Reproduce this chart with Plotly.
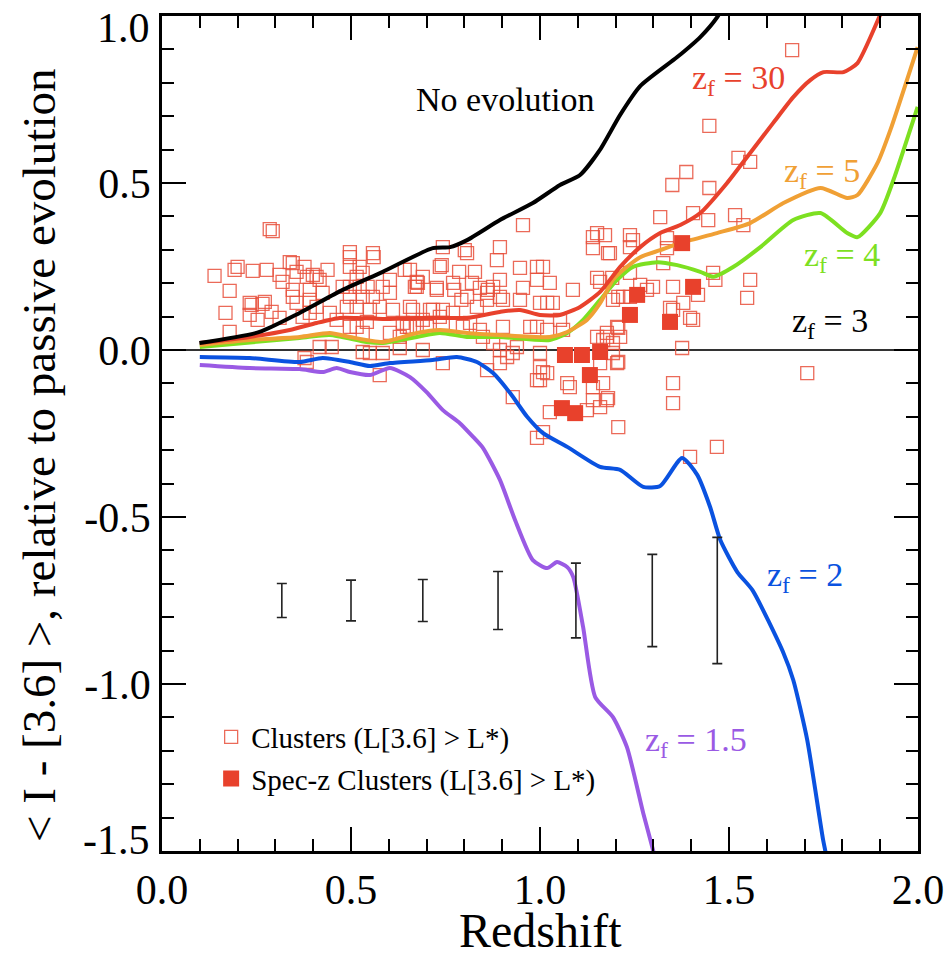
import plotly.graph_objects as go

# ---------------- data ----------------
# open squares: photometric clusters (redshift, colour offset)
clusters_z = [
    0.139, 0.192, 0.200, 0.240, 0.277, 0.179, 0.168, 0.232, 0.237, 0.272, 0.290, 0.179, 0.293, 0.285,
    0.311, 0.338, 0.346, 0.356, 0.319, 0.346, 0.346, 0.356, 0.377, 0.383, 0.409, 0.417, 0.438, 0.391,
    0.391, 0.425, 0.409, 0.391, 0.497, 0.497, 0.558, 0.560, 0.497, 0.523, 0.515, 0.531, 0.478, 0.497,
    0.523, 0.544, 0.497, 0.531, 0.558, 0.489, 0.515, 0.550, 0.576, 0.444, 0.462, 0.497, 0.515, 0.542,
    0.584, 0.603, 0.603, 0.611, 0.656, 0.674, 0.674, 0.690, 0.727, 0.740, 0.743, 0.717, 0.656, 0.648,
    0.674, 0.603, 0.629, 0.531, 0.417, 0.449, 0.383, 0.531, 0.550, 0.584, 0.629, 0.690, 0.576, 0.253,
    0.642, 0.669, 0.677, 0.735, 0.786, 0.807, 0.801, 0.828, 0.727, 0.770, 0.773, 0.820, 0.841, 0.862,
    0.876, 0.894, 0.792, 0.807, 0.709, 0.743, 0.770, 0.833, 0.860, 0.860, 0.894, 0.886, 0.894, 0.902,
    0.955, 0.947, 0.992, 1.008, 0.992, 1.026, 0.955, 1.034, 0.947, 1.000, 1.019, 1.087, 0.637, 0.656,
    0.664, 0.690, 0.701, 0.735, 0.743, 0.796, 0.815, 0.841, 0.902, 0.974, 0.992, 1.019, 1.053, 1.061,
    0.743, 0.849, 0.876, 0.894, 0.939, 0.913, 0.928, 0.894, 1.000, 1.000, 0.860, 0.928, 1.008, 1.019,
    0.992, 1.000, 1.072, 1.079, 1.026, 0.992, 1.008, 1.140, 1.151, 1.140, 1.185, 1.238, 1.246, 1.151,
    1.159, 1.193, 1.220, 1.177, 1.177, 1.167, 1.151, 1.204, 1.193, 1.193, 1.212, 1.159, 1.204, 1.140,
    1.167, 1.140, 1.159, 1.177, 1.124, 1.207, 1.238, 1.318, 1.405, 1.336, 1.336, 1.238, 1.299, 1.265,
    1.283, 1.326, 1.352, 1.379, 1.352, 1.397, 1.405, 1.376, 1.352, 1.352, 1.667, 1.448, 1.387, 1.350,
    1.448, 1.525, 1.556, 1.445, 1.516, 1.538, 1.172, 1.180, 1.238, 1.191, 1.458, 1.464, 1.556, 1.548,
    1.207, 1.418, 1.344, 1.207, 1.180, 1.707, 1.468, 1.397, 1.207,
    0.232, 0.266, 0.311, 0.372, 0.377, 0.399,
]
clusters_c = [
    0.222, 0.240, 0.249, 0.237, 0.240, 0.177, 0.111, 0.141, 0.135, 0.144, 0.114, 0.054, 0.356, 0.362,
    0.225, 0.263, 0.260, 0.234, 0.204, 0.180, 0.159, 0.141, 0.249, 0.219, 0.219, 0.210, 0.240, 0.180,
    0.150, 0.171, 0.129, 0.111, 0.293, 0.278, 0.290, 0.278, 0.249, 0.249, 0.219, 0.231, 0.189, 0.189,
    0.189, 0.189, 0.159, 0.159, 0.159, 0.129, 0.129, 0.120, 0.129, 0.111, 0.090, 0.069, 0.069, 0.084,
    0.189, 0.171, 0.210, 0.120, 0.240, 0.204, 0.189, 0.219, 0.186, 0.254, 0.308, 0.120, 0.129, 0.069,
    0.069, 0.051, 0.039, 0.051, 0.009, 0.009, -0.036, -0.006, -0.009, -0.009, 0.006, 0.000, -0.075, 0.090,
    0.240, 0.189, 0.201, 0.249, 0.234, 0.290, 0.299, 0.234, 0.180, 0.201, 0.180, 0.201, 0.186, 0.180,
    0.189, 0.159, 0.150, 0.159, 0.120, 0.120, 0.111, 0.129, 0.150, 0.171, 0.308, 0.269, 0.210, 0.150,
    0.374, 0.246, 0.249, 0.249, 0.210, 0.201, 0.186, 0.141, 0.150, 0.141, 0.141, 0.180, 0.081, 0.069,
    0.120, 0.090, 0.069, 0.099, 0.081, 0.069, 0.081, 0.060, 0.069, 0.069, 0.069, 0.060, 0.090, 0.060,
    -0.039, 0.039, 0.021, 0.000, 0.009, -0.021, -0.009, -0.039, -0.009, -0.051, -0.060, -0.141, -0.066, -0.069,
    -0.090, -0.090, -0.099, -0.111, -0.186, -0.263, -0.246, 0.338, 0.350, 0.305, 0.290, 0.344, 0.329, 0.216,
    0.204, 0.150, 0.159, 0.051, 0.039, 0.030, 0.039, 0.069, 0.021, -0.009, 0.039, -0.039, -0.039, -0.111,
    -0.099, -0.150, -0.171, -0.150, -0.180, -0.231, 0.159, 0.398, 0.410, 0.335, 0.305, 0.308, 0.189, 0.195,
    0.180, 0.260, 0.189, 0.141, 0.120, 0.096, 0.090, 0.006, -0.099, -0.159, 0.898, 0.671, 0.533, 0.494,
    0.485, 0.575, 0.563, 0.389, 0.404, 0.374, 0.344, 0.290, 0.231, 0.216, 0.231, 0.210, 0.210, 0.156,
    0.159, 0.165, 0.126, 0.066, -0.144, -0.069, -0.290, -0.320, -0.036,
    0.105, 0.138, 0.096, 0.099, -0.024, 0.225,
]

# filled squares: spectroscopic clusters
specz_z = [1.066, 1.111, 1.159, 1.132, 1.058, 1.093, 1.257, 1.238, 1.344, 1.376, 1.405]
specz_c = [-0.015, -0.015, -0.006, -0.075, -0.174, -0.189, 0.165, 0.105, 0.084, 0.320, 0.189]

# model tracks
noevo_z = [0.099, 0.258, 0.364, 0.478, 0.584, 0.716, 0.762, 0.807, 0.894, 0.981, 1.053, 1.106, 1.159,
           1.212, 1.265, 1.363, 1.424, 1.469, 1.50]
noevo_c = [0.021, 0.054, 0.111, 0.180, 0.234, 0.305, 0.308, 0.329, 0.389, 0.440, 0.494, 0.524, 0.600,
           0.704, 0.790, 0.877, 0.937, 0.997, 1.06]

zf30_z = [0.100, 0.232, 0.338, 0.409, 0.470, 0.515, 0.584, 0.674, 0.762, 0.807, 0.894, 0.947, 1.000,
          1.053, 1.106, 1.159, 1.212, 1.265, 1.318, 1.371, 1.424, 1.495, 1.556, 1.617, 1.670, 1.715,
          1.750, 1.803, 1.840, 1.900, 1.92]
zf30_c = [0.021, 0.039, 0.060, 0.081, 0.096, 0.096, 0.093, 0.096, 0.096, 0.096, 0.114, 0.120, 0.105,
          0.105, 0.129, 0.174, 0.249, 0.308, 0.350, 0.374, 0.410, 0.500, 0.590, 0.680, 0.757, 0.808,
          0.832, 0.832, 0.859, 1.003, 1.05]

zf5_z = [0.100, 0.232, 0.364, 0.444, 0.497, 0.584, 0.674, 0.735, 0.807, 0.894, 1.026, 1.072, 1.124,
         1.159, 1.193, 1.230, 1.265, 1.318, 1.371, 1.468, 1.556, 1.644, 1.742, 1.813, 1.840, 1.893,
         1.927, 1.999]
zf5_c = [0.015, 0.030, 0.039, 0.051, 0.039, 0.024, 0.051, 0.060, 0.051, 0.045, 0.039, 0.054, 0.090,
         0.140, 0.210, 0.249, 0.278, 0.299, 0.320, 0.350, 0.380, 0.440, 0.485, 0.455, 0.464, 0.560,
         0.659, 0.907]

zf4_z = [0.100, 0.364, 0.444, 0.541, 0.584, 0.674, 0.735, 0.807, 0.894, 1.026, 1.072, 1.114, 1.159,
         1.204, 1.246, 1.310, 1.363, 1.424, 1.459, 1.512, 1.583, 1.670, 1.742, 1.813, 1.840, 1.900,
         1.935, 1.999]
zf4_c = [0.009, 0.036, 0.045, 0.024, 0.021, 0.039, 0.051, 0.039, 0.039, 0.030, 0.051, 0.090, 0.150,
         0.210, 0.249, 0.263, 0.254, 0.234, 0.219, 0.249, 0.308, 0.389, 0.410, 0.350, 0.338, 0.410,
         0.509, 0.728]

zf2_z = [0.100, 0.232, 0.364, 0.425, 0.497, 0.550, 0.603, 0.716, 0.780, 0.833, 0.876, 0.921, 0.966,
         1.008, 1.072, 1.159, 1.212, 1.273, 1.318, 1.376, 1.416, 1.450, 1.477, 1.522, 1.562, 1.644,
         1.670, 1.707, 1.749, 1.760]
zf2_c = [-0.021, -0.024, -0.036, -0.024, -0.036, -0.048, -0.039, -0.030, -0.021, -0.036, -0.069, -0.129,
         -0.200, -0.249, -0.290, -0.350, -0.359, -0.410, -0.407, -0.323, -0.374, -0.470, -0.569, -0.665,
         -0.719, -0.907, -0.988, -1.168, -1.467, -1.527]

zf15_z = [0.100, 0.232, 0.364, 0.425, 0.462, 0.497, 0.550, 0.603, 0.656, 0.700, 0.743, 0.788, 0.823,
          0.849, 0.894, 0.934, 0.981, 1.019, 1.045, 1.072, 1.088, 1.114, 1.146, 1.193, 1.230, 1.273,
          1.299, 1.31]
zf15_c = [-0.045, -0.054, -0.057, -0.066, -0.054, -0.066, -0.075, -0.054, -0.081, -0.126, -0.180, -0.219,
          -0.260, -0.293, -0.389, -0.509, -0.629, -0.653, -0.635, -0.650, -0.680, -0.829, -1.039, -1.099,
          -1.189, -1.386, -1.497, -1.55]

# typical error bars
err_z = [0.317, 0.500, 0.690, 0.889, 1.095, 1.297, 1.469]
err_c = [-0.75, -0.75, -0.75, -0.75, -0.75, -0.75, -0.75]
err_size = [0.051, 0.061, 0.063, 0.087, 0.112, 0.138, 0.189]

# tick labels (end labels of the y axis are nudged inside, as in the original)
x_ticks = [0.0, 0.5, 1.0, 1.5, 2.0]
x_ticktext = ["0.0", "0.5", "1.0", "1.5", "2.0"]
y_ticks = [-1.5, -1.0, -0.5, 0.0, 0.5, 1.0]
y_ticktext = ["", "-1.0", "-0.5", "0.0", "0.5", ""]
y_end_labels = [(1.0, "1.0", -12), (-1.5, "-1.5", 11)]

SERIF = "Liberation Serif"
RED = "#e8412c"
ORANGE = "#f0a035"
GREEN = "#7de021"
BLUE = "#0a52e0"
PURPLE = "#9a5ae4"

fig = go.Figure()

fig.add_trace(go.Scatter(
    x=clusters_z, y=clusters_c, mode="markers", name="Clusters (L[3.6] > L*)",
    legendgroup="a",
    marker=dict(symbol="square-open", size=13, color="rgba(232,80,60,0.85)", line=dict(width=1.3)),
))

for xs, ys, col in [
    (zf15_z, zf15_c, PURPLE), (zf2_z, zf2_c, BLUE), (zf4_z, zf4_c, GREEN),
    (zf5_z, zf5_c, ORANGE), (zf30_z, zf30_c, RED), (noevo_z, noevo_c, "black"),
]:
    fig.add_trace(go.Scatter(x=xs, y=ys, mode="lines", showlegend=False,
                             line=dict(color=col, width=4, shape="spline", smoothing=0.6)))

fig.add_trace(go.Scatter(
    x=err_z, y=err_c, mode="markers", showlegend=False,
    marker=dict(size=1, color="rgba(0,0,0,0)"),
    error_y=dict(type="data", array=err_size, visible=True, color="#222", thickness=1.6, width=5),
))

fig.add_trace(go.Scatter(
    x=specz_z, y=specz_c, mode="markers", name="Spec-z Clusters (L[3.6] > L*)",
    legendgroup="b",
    marker=dict(symbol="square", size=16, color=RED, line=dict(width=0)),
))

labels = [
    ("No evolution", 0.907, 0.749, "black"),
    ("z<sub>f</sub> = 30", 1.524, 0.808, RED),
    ("z<sub>f</sub> = 5", 1.747, 0.53, ORANGE),
    ("z<sub>f</sub> = 4", 1.80, 0.278, GREEN),
    ("z<sub>f</sub> = 3", 1.768, 0.081, "black"),
    ("z<sub>f</sub> = 2", 1.702, -0.68, BLUE),
    ("z<sub>f</sub> = 1.5", 1.413, -1.174, PURPLE),
]
for txt, x, y, col in labels:
    fig.add_annotation(x=x, y=y, text=txt, showarrow=False, xanchor="center", yanchor="middle",
                       font=dict(family=SERIF, size=34, color=col))

for yv, txt, shift in y_end_labels:
    fig.add_annotation(xref="paper", x=0, y=yv, text=txt, showarrow=False,
                       xanchor="right", yanchor="middle", xshift=-10, yshift=shift,
                       font=dict(family=SERIF, size=42, color="black"))

fig.add_annotation(xref="paper", yref="paper", x=0.5, y=-0.1257, text="Redshift",
                   xanchor="center", yanchor="bottom", yshift=-3,
                   showarrow=False, font=dict(family=SERIF, size=48, color="black"))
fig.add_annotation(xref="paper", yref="paper", x=-0.2, y=0.474, textangle=-90,
                   xanchor="left", yanchor="middle",
                   text="< I - [3.6] >, relative to passive evolution",
                   showarrow=False, font=dict(family=SERIF, size=47, color="black"))

axis_common = dict(
    showline=True, linecolor="black", linewidth=2.5, mirror="ticks",
    ticks="inside", ticklen=24, tickwidth=2, tickcolor="black",
    showgrid=False, tickfont=dict(family=SERIF, size=42, color="black"),
    ticklabeloverflow="allow", automargin=False,
    minor=dict(ticks="inside", ticklen=12, tickwidth=2, tickcolor="black", dtick=0.1, showgrid=False),
)
fig.update_xaxes(range=[0, 2.0], tickmode="array", tickvals=x_ticks, ticktext=x_ticktext,
                 zeroline=False, **axis_common)
fig.update_yaxes(range=[-1.5, 1.0], tickmode="array", tickvals=y_ticks, ticktext=y_ticktext,
                 zeroline=True, zerolinecolor="#333", zerolinewidth=2, **axis_common)

fig.update_layout(
    width=947, height=956,
    margin=dict(l=162, r=29, t=16, b=105, autoexpand=False),
    plot_bgcolor="white", paper_bgcolor="white",
    legend=dict(x=0.065, y=0.167, xanchor="left", yanchor="top",
                font=dict(family=SERIF, size=29, color="black"),
                bgcolor="rgba(255,255,255,0)", tracegroupgap=1, traceorder="grouped"),
)

fig.write_html("out.html")
